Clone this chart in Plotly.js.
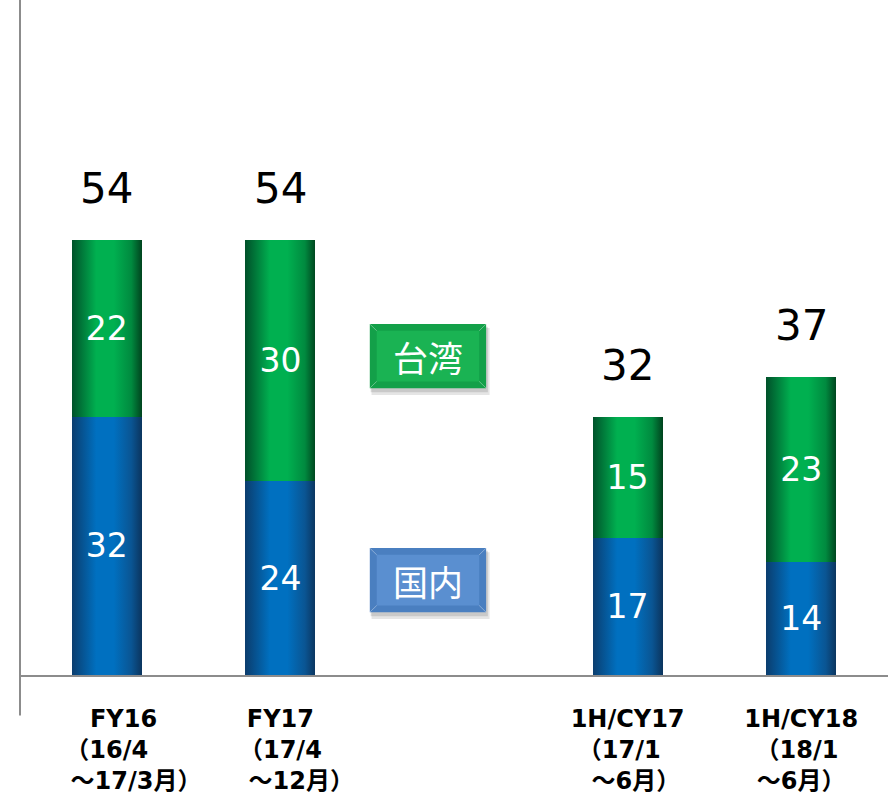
<!DOCTYPE html>
<html>
<head>
<meta charset="utf-8">
<script src="https://cdn.plot.ly/plotly-3.0.1.min.js"></script>
<style>
  html, body { margin: 0; padding: 0; background: #ffffff; }
  #chart { width: 891px; height: 796px; }
</style>
</head>
<body>
<div id="chart"></div>
<script>
// ---- data ----
const categories = ["FY16", "FY17", "gap", "1H/CY17", "1H/CY18"];
const domestic = [32, 24, null, 17, 14];   // 国内 (blue)
const taiwan   = [22, 30, null, 15, 23];   // 台湾 (green)
const totals   = [54, 54, null, 32, 37];
const tickLine1 = ["\u00a0\u00a0\u00a0\u00a0FY16", "FY17", "", "1H/CY17", "1H/CY18"];
const tickLine2 = ["（16/4", "（17/4", "", "（17/1\u00a0\u00a0", "（18/1\u00a0"];
const tickLine3 = ["\u00a0\u00a0\u00a0\u00a0\u00a0\u00a0\u00a0～17/3月）", "\u00a0\u00a0\u00a0\u00a0\u00a0～12月）", "", "\u00a0\u00a0～6月）", "～6月）"];
const seriesNames = ["国内", "台湾"];

const tickText = categories.map((c, i) =>
  [tickLine1[i], tickLine2[i], tickLine3[i]].filter(s => s !== "").join("<br>"));

const FONT = "DejaVu Sans, Verdana, 'Noto Sans CJK JP', sans-serif";
const CJK = "'Noto Sans CJK JP', 'Noto Sans', sans-serif";

const traces = [
  {
    type: "bar", name: seriesNames[0], x: categories, y: domestic,
    marker: { color: "#0070c0", line: { width: 0 } },
    text: domestic.map(v => v == null ? "" : String(v)),
    textposition: "inside", insidetextanchor: "middle",
    textfont: { family: FONT, size: 33, color: "#ffffff" },
    hoverinfo: "skip"
  },
  {
    type: "bar", name: seriesNames[1], x: categories, y: taiwan,
    marker: { color: "#00b050", line: { width: 0 } },
    text: taiwan.map(v => v == null ? "" : String(v)),
    textposition: "inside", insidetextanchor: "middle",
    textfont: { family: FONT, size: 33, color: "#ffffff" },
    hoverinfo: "skip"
  }
];

const annotations = [];
categories.forEach((c, i) => {
  if (totals[i] == null) return;
  annotations.push({
    x: c, y: totals[i], xref: "x", yref: "y",
    text: String(totals[i]), showarrow: false,
    yanchor: "bottom", yshift: 25,
    font: { family: FONT, size: 42, color: "#000000" }
  });
});

// legend-like labelled boxes
function bevelBox(x0, x1, y0, y1, outer, inner, label) {
  const shapes = [];
  // soft shadow
  shapes.push({ type: "rect", xref: "paper", yref: "paper",
    x0: x0 + 0.002, x1: x1 + 0.004, y0: y0 - 0.010, y1: y1 - 0.006,
    fillcolor: "rgba(0,0,0,0.10)", line: { width: 0 }, layer: "above" });
  shapes.push({ type: "rect", xref: "paper", yref: "paper",
    x0: x0 + 0.001, x1: x1 + 0.002, y0: y0 - 0.006, y1: y1 - 0.004,
    fillcolor: "rgba(0,0,0,0.12)", line: { width: 0 }, layer: "above" });
  shapes.push({ type: "rect", xref: "paper", yref: "paper",
    x0: x0, x1: x1, y0: y0, y1: y1,
    fillcolor: outer, line: { width: 0 }, layer: "above" });
  const dx = 0.008, dy = 0.010;
  shapes.push({ type: "rect", xref: "paper", yref: "paper",
    x0: x0 + dx, x1: x1 - dx, y0: y0 + dy, y1: y1 - dy,
    fillcolor: inner, line: { width: 0 }, layer: "above" });
  [[x0, y0, x0 + dx, y0 + dy], [x1, y0, x1 - dx, y0 + dy],
   [x0, y1, x0 + dx, y1 - dy], [x1, y1, x1 - dx, y1 - dy]].forEach(p => {
    shapes.push({ type: "line", xref: "paper", yref: "paper",
      x0: p[0], y0: p[1], x1: p[2], y1: p[3],
      line: { color: "rgba(255,255,255,0.35)", width: 1 }, layer: "above" });
  });
  annotations.push({ xref: "paper", yref: "paper", x: (x0 + x1) / 2, y: (y0 + y1) / 2,
    text: label, showarrow: false, xanchor: "center", yanchor: "middle",
    font: { family: CJK, size: 35, color: "#ffffff" } });
  return shapes;
}

const shapes = [
  // left vertical rule extending below the baseline
  { type: "line", xref: "paper", yref: "paper", x0: 0, x1: 0, y0: -0.06, y1: 1.0,
    line: { color: "#8c8c8c", width: 2 } },
  ...bevelBox(0.403, 0.537, 0.425, 0.520, "#13a049", "#1ab353", seriesNames[1]),
  ...bevelBox(0.403, 0.537, 0.093, 0.188, "#4a7fc0", "#5a8fd0", seriesNames[0])
];

const layout = {
  width: 891, height: 796,
  margin: { l: 20, r: 3, t: 0, b: 121 },
  paper_bgcolor: "#ffffff", plot_bgcolor: "#ffffff",
  barmode: "stack", bargap: 0.597,
  showlegend: false,
  xaxis: {
    type: "category", categoryorder: "array", categoryarray: categories,
    tickmode: "array", tickvals: categories, ticktext: tickText,
    tickfont: { family: FONT, size: 24, color: "#000000", weight: "bold" },
    tickangle: 0,
    ticks: "", ticklabelstandoff: 21,
    showline: true, linecolor: "#8c8c8c", linewidth: 2,
    showgrid: false, zeroline: false, fixedrange: true
  },
  yaxis: {
    range: [0, 83.7], visible: false, showgrid: false, zeroline: false, fixedrange: true
  },
  shapes: shapes,
  annotations: annotations,
  uniformtext: { mode: false }
};

Plotly.newPlot("chart", traces, layout, { staticPlot: true, displayModeBar: false }).then(gd => {
  // cylinder-like horizontal shading on bars
  const svg = gd.querySelector(".main-svg");
  const NS = "http://www.w3.org/2000/svg";
  let defs = svg.querySelector("defs");
  if (!defs) { defs = document.createElementNS(NS, "defs"); svg.insertBefore(defs, svg.firstChild); }
  function grad(id, stops) {
    const g = document.createElementNS(NS, "linearGradient");
    g.setAttribute("id", id);
    g.setAttribute("x1", "0"); g.setAttribute("x2", "1");
    g.setAttribute("y1", "0"); g.setAttribute("y2", "0");
    stops.forEach(s => {
      const st = document.createElementNS(NS, "stop");
      st.setAttribute("offset", s[0]);
      st.setAttribute("stop-color", s[1]);
      g.appendChild(st);
    });
    defs.appendChild(g);
  }
  grad("gradBlue", [["0", "#0b3d6e"], ["0.35", "#0070c0"], ["0.6", "#0070c0"], ["0.85", "#0a5593"], ["1", "#0b355f"]]);
  grad("gradGreen", [["0", "#00512a"], ["0.35", "#00b050"], ["0.6", "#00b050"], ["0.85", "#008a3f"], ["1", "#00451f"]]);
  const traceGroups = gd.querySelectorAll(".barlayer .trace");
  traceGroups.forEach((tg, i) => {
    const id = i === 0 ? "gradBlue" : "gradGreen";
    tg.querySelectorAll(".point path").forEach(p => { p.style.fill = "url(#" + id + ")"; });
  });
});
</script>
</body>
</html>
